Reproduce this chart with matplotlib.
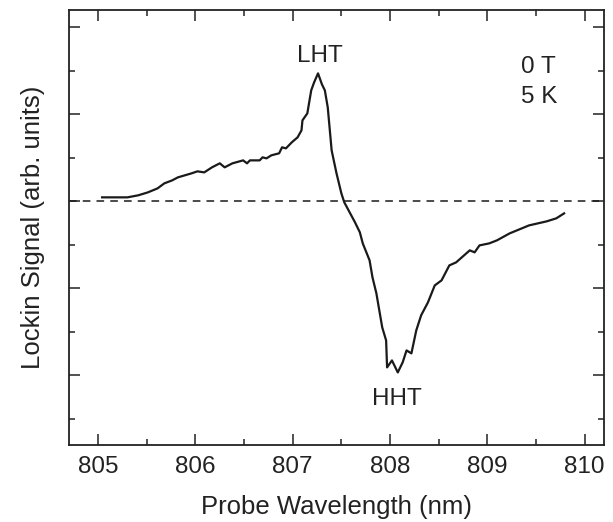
import numpy as np
import matplotlib.pyplot as plt
from matplotlib.ticker import MultipleLocator, NullFormatter

plt.rcParams['font.family'] = ['Liberation Sans', 'DejaVu Sans']

# Probe wavelength (nm) and lock-in signal (arb. units, 0 = baseline)
wavelength = [805.04, 805.17, 805.30, 805.41, 805.51, 805.61, 805.68, 805.76,
              805.82, 805.89, 805.96, 806.02, 806.09, 806.17, 806.25, 806.30,
              806.38, 806.49, 806.53, 806.56, 806.66, 806.69, 806.73, 806.78,
              806.86, 806.89, 806.93, 806.99, 807.05, 807.09, 807.10, 807.15,
              807.19, 807.22, 807.26, 807.30, 807.33, 807.36, 807.40, 807.45,
              807.50, 807.53, 807.585, 807.64, 807.69, 807.72, 807.79, 807.82,
              807.86, 807.89, 807.92, 807.96, 807.97, 808.02, 808.08, 808.13,
              808.17, 808.22, 808.27, 808.32, 808.39, 808.46, 808.53, 808.61,
              808.68, 808.82, 808.87, 808.92, 809.02, 809.10, 809.23, 809.33,
              809.43, 809.52, 809.61, 809.71, 809.79]
signal = [0.046, 0.046, 0.046, 0.069, 0.103, 0.149, 0.207, 0.241,
          0.276, 0.299, 0.322, 0.345, 0.333, 0.391, 0.437, 0.391,
          0.437, 0.471, 0.437, 0.471, 0.471, 0.506, 0.494, 0.529,
          0.552, 0.621, 0.609, 0.678, 0.736, 0.816, 0.931, 1.011,
          1.276, 1.368, 1.471, 1.345, 1.276, 1.080, 0.586, 0.322,
          0.092, -0.011, -0.126, -0.241, -0.356, -0.483, -0.678, -0.874,
          -1.057, -1.253, -1.448, -1.598, -1.908, -1.828, -1.966, -1.851,
          -1.713, -1.747, -1.483, -1.310, -1.161, -0.966, -0.908, -0.736,
          -0.701, -0.563, -0.586, -0.506, -0.483, -0.448, -0.368, -0.322,
          -0.276, -0.253, -0.230, -0.195, -0.138]

fig, ax = plt.subplots(figsize=(6.13, 5.22), dpi=100)
fig.subplots_adjust(left=0.1126, right=0.9853, top=0.981, bottom=0.1475)

ax.plot(wavelength, signal, color='#1a1a1a', lw=1.6)
ax.axhline(0, color='#1a1a1a', lw=1.1, ls=(0, (5, 4)))

ax.set_xlim(804.70, 810.2)
ax.set_ylim(-2.8, 2.2)

ax.xaxis.set_major_locator(MultipleLocator(1))
ax.xaxis.set_minor_locator(MultipleLocator(0.5))
ax.yaxis.set_major_locator(MultipleLocator(1))
ax.yaxis.set_minor_locator(MultipleLocator(0.5))
ax.yaxis.set_major_formatter(NullFormatter())
ax.tick_params(which='both', direction='in', top=True, right=True,
               width=1.1, color='#222222', labelsize=17.5, labelcolor='#222222')
ax.tick_params(which='major', length=8, pad=8)
ax.tick_params(which='minor', length=4)
for s in ax.spines.values():
    s.set_linewidth(1.3)
    s.set_color('#222222')

ax.set_xlabel('Probe Wavelength (nm)', fontsize=18.5, color='#222222', labelpad=12)
ax.set_ylabel('Lockin Signal (arb. units)', fontsize=18.5, color='#222222', labelpad=9)

ax.text(807.277, 1.598, 'LHT', fontsize=17.5, ha='center', va='baseline', color='#222222')
ax.text(808.07, -2.34, 'HHT', fontsize=17.5, ha='center', va='baseline', color='#222222')
ax.text(809.53, 1.471, '0 T', fontsize=17.5, ha='center', va='baseline', color='#222222')
ax.text(809.53, 1.126, '5 K', fontsize=17.5, ha='center', va='baseline', color='#222222')

plt.savefig('out.png', dpi=100)
